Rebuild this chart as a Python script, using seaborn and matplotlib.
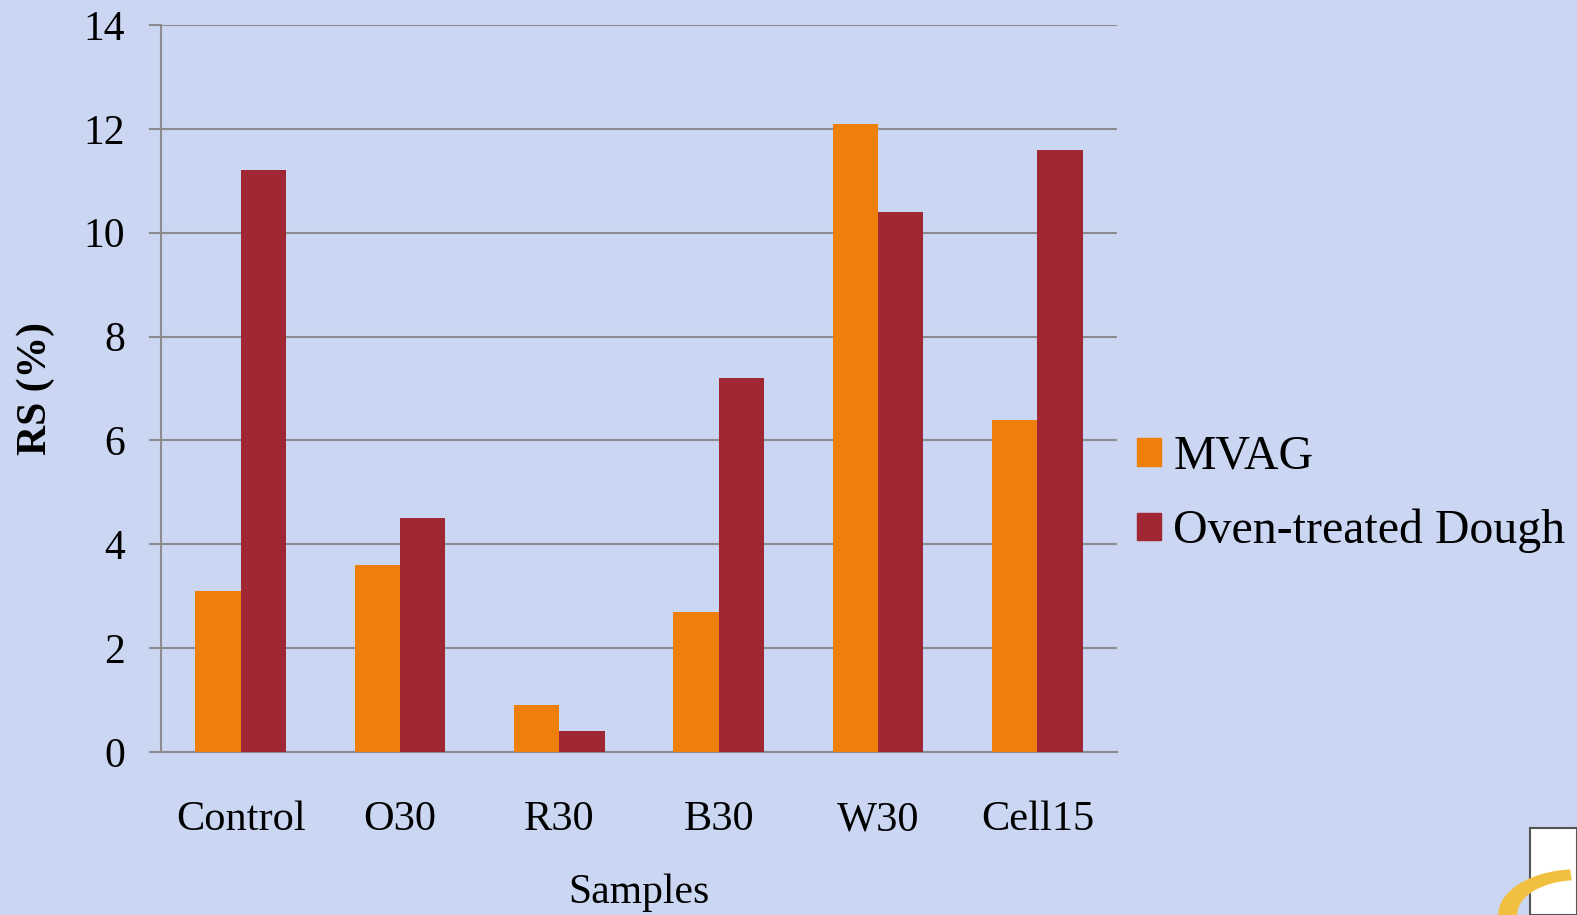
import pandas as pd
import numpy as np
import matplotlib
matplotlib.use("Agg")
import matplotlib.pyplot as plt
import matplotlib.patches as mpatches
import seaborn as sns

# data
samples = ["Control", "O30", "R30", "B30", "W30", "Cell15"]
mvag = [3.1, 3.6, 0.9, 2.7, 12.1, 6.4]
oven = [11.2, 4.5, 0.4, 7.2, 10.4, 11.6]
series = ["MVAG", "Oven-treated Dough"]
colors = ["#EE7F0A", "#A02835"]

df = pd.DataFrame({
    "Samples": samples * 2,
    "RS": mvag + oven,
    "Series": [series[0]] * len(samples) + [series[1]] * len(samples),
})

sns.set_style("white")
plt.rcParams["font.family"] = ["Liberation Serif", "DejaVu Serif"]
plt.rcParams["text.color"] = "black"
plt.rcParams["xtick.color"] = "black"
plt.rcParams["ytick.color"] = "black"
plt.rcParams["axes.labelcolor"] = "black"

bg = "#CAD6F2"
grid_c = "#8C8C8C"

fig = plt.figure(figsize=(15.77, 9.15), dpi=100, facecolor=bg)
ax = fig.add_axes([0.1021, 0.1781, 0.6062, 0.7946])
ax.set_facecolor("none")

sns.barplot(data=df, x="Samples", y="RS", hue="Series", palette=colors,
            width=0.57, gap=0, saturation=1, ax=ax, legend=False,
            linewidth=0, edgecolor="none", zorder=3)

ax.set_ylim(0, 14)
ax.set_yticks(np.arange(0, 15, 2))
ax.set_xlim(-0.5, len(samples) - 0.5)
ax.yaxis.grid(True, color=grid_c, linewidth=1.5, zorder=0)
ax.set_axisbelow(True)

for s in ["top", "right"]:
    ax.spines[s].set_visible(False)
for s in ["left", "bottom"]:
    ax.spines[s].set_color(grid_c)
    ax.spines[s].set_linewidth(1.5)

ax.tick_params(axis="y", length=9, width=1.5, color=grid_c, labelcolor="black",
               labelsize=30, pad=17, left=True)
ax.tick_params(axis="x", length=0, labelsize=30.5, labelcolor="black", pad=35)
ax.set_xlabel("Samples", fontsize=30, labelpad=25)
ax.set_ylabel("RS (%)", fontsize=30, fontweight="bold", labelpad=20)

handles = [mpatches.Patch(color=c, label=l) for c, l in zip(colors, series)]
fig.legend(handles=handles, loc="center left", bbox_to_anchor=(0.709, 0.46),
           frameon=False, fontsize=34.5, handlelength=0.5, handleheight=0.5,
           handletextpad=0.25, labelspacing=0.62, borderaxespad=0)

# corner logo fragment
fig.patches.append(mpatches.Rectangle((1530 / 1577, 0), 47 / 1577, 87 / 915,
                                      transform=fig.transFigure, facecolor="white",
                                      edgecolor="#555555", linewidth=1.5))
fig.patches.append(mpatches.Wedge((1577 / 1577, 0), 0.05, 95, 180,
                                  width=0.012, transform=fig.transFigure,
                                  facecolor="#F2C040", edgecolor="none"))

fig.savefig("out.png", dpi=100, facecolor=bg)
